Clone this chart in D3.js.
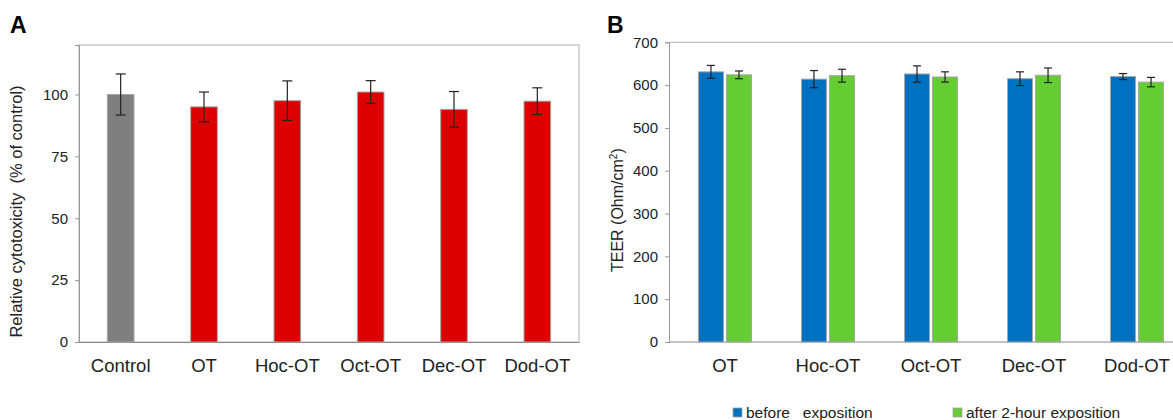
<!DOCTYPE html>
<html>
<head>
<meta charset="utf-8">
<script src="https://cdn.jsdelivr.net/npm/d3@7"></script>
<style>
  body { margin: 0; background: #fff; }
  svg { display: block; font-family: "Liberation Sans", Arial, sans-serif; }
</style>
</head>
<body>
<div id="chart"></div>
<script>
// panel A: relative cytotoxicity
const catsA = ["Control", "OT", "Hoc-OT", "Oct-OT", "Dec-OT", "Dod-OT"];
const meanA = [100, 95, 97.5, 101, 94, 97.3];
const errA = [8.3, 6, 8, 4.6, 7.2, 5.4];
const ticksA = [0, 25, 50, 75, 100];

// panel B: TEER before / after
const catsB = ["OT", "Hoc-OT", "Oct-OT", "Dec-OT", "Dod-OT"];
const seriesB = ["before", "after"];
const beforeB = [631, 614, 626, 615, 620];
const beforeErrB = [15, 20, 19, 16, 7];
const afterB = [624, 622, 619, 623, 607];
const afterErrB = [9, 15, 12, 17, 11];
const ticksB = [0, 100, 200, 300, 400, 500, 600, 700];
const legendLabels = ["before   exposition", "after 2-hour exposition"];

const width = 1173, height = 420;

const svg = d3.select("#chart").append("svg")
  .attr("width", width)
  .attr("height", height);

// ---------- Panel A ----------
const a = { left: 79, right: 579, top: 45, bottom: 342 };

const xA = d3.scaleBand().domain(catsA)
  .range([a.left, a.right])
  .paddingInner(0.68).paddingOuter(0.34);
const yA = d3.scaleLinear().domain([0, 120]).range([a.bottom, a.top]);

svg.append("text").attr("x", 10).attr("y", 33)
  .attr("font-size", 23).attr("font-weight", "bold").text("A");

svg.append("rect")
  .attr("x", a.left).attr("y", a.top)
  .attr("width", a.right - a.left).attr("height", a.bottom - a.top)
  .attr("fill", "none").attr("stroke", "#b0b0b0");

const yAxisA = svg.append("g")
  .attr("transform", `translate(${a.left},0)`)
  .call(d3.axisLeft(yA).tickValues(ticksA).tickSize(4).tickPadding(7));
yAxisA.select(".domain").attr("stroke", "#999");
yAxisA.selectAll(".tick line").attr("stroke", "#999");
yAxisA.selectAll("text").attr("font-size", 15).attr("fill", "#222")
  .attr("font-family", "Liberation Sans, Arial, sans-serif");

const xAxisA = svg.append("g")
  .attr("transform", `translate(0,${a.bottom})`)
  .call(d3.axisBottom(xA).tickSize(0).tickPadding(17));
xAxisA.select(".domain").attr("stroke", "#888");
xAxisA.selectAll("text").attr("font-size", 18.5).attr("fill", "#222")
  .attr("font-family", "Liberation Sans, Arial, sans-serif");

svg.append("g").selectAll("rect")
  .data(catsA)
  .join("rect")
  .attr("x", (d) => xA(d))
  .attr("y", (d, i) => yA(meanA[i]))
  .attr("width", xA.bandwidth())
  .attr("height", (d, i) => yA(0) - yA(meanA[i]))
  .attr("fill", (d, i) => (i === 0 ? "#7f7f7f" : "#dc0000"))
  .attr("stroke", "#a6a6a6")
  .attr("stroke-width", 1);

const errGA = svg.append("g").attr("stroke", "#222").attr("stroke-width", 1.2);
catsA.forEach((c, i) => {
  const cx = xA(c) + xA.bandwidth() / 2;
  const hi = yA(meanA[i] + errA[i]), lo = yA(meanA[i] - errA[i]);
  errGA.append("line").attr("x1", cx).attr("x2", cx).attr("y1", hi).attr("y2", lo);
  errGA.append("line").attr("x1", cx - 5).attr("x2", cx + 5).attr("y1", hi).attr("y2", hi);
  errGA.append("line").attr("x1", cx - 5).attr("x2", cx + 5).attr("y1", lo).attr("y2", lo);
});

svg.append("text")
  .attr("transform", `translate(22,${(a.top + a.bottom) / 2 + 18}) rotate(-90)`)
  .attr("text-anchor", "middle")
  .attr("font-size", 16.5).attr("fill", "#222")
  .style("white-space", "pre")
  .text("Relative cytotoxicity  (% of control)");

// ---------- Panel B ----------
const b = { left: 669, right: 1193, top: 42.3, bottom: 342 };

const x0B = d3.scaleBand().domain(catsB)
  .range([b.left, b.right])
  .paddingInner(0.485).paddingOuter(0.286);
const x1B = d3.scaleBand().domain(seriesB)
  .range([0, x0B.bandwidth()])
  .paddingInner(0.11);
const yB = d3.scaleLinear().domain([0, 700]).range([b.bottom, b.top]);
const colorB = d3.scaleOrdinal().domain(seriesB).range(["#0070c0", "#66cc33"]);

svg.append("text").attr("x", 607).attr("y", 33)
  .attr("font-size", 23).attr("font-weight", "bold").text("B");

// top frame line (plot area runs off the right edge)
svg.append("line")
  .attr("x1", b.left).attr("x2", width)
  .attr("y1", yB(700)).attr("y2", yB(700))
  .attr("stroke", "#b0b0b0");

const yAxisB = svg.append("g")
  .attr("transform", `translate(${b.left},0)`)
  .call(d3.axisLeft(yB).tickValues(ticksB).tickSize(4).tickPadding(7));
yAxisB.select(".domain").attr("stroke", "#999");
yAxisB.selectAll(".tick line").attr("stroke", "#999");
yAxisB.selectAll("text").attr("font-size", 15).attr("fill", "#222")
  .attr("font-family", "Liberation Sans, Arial, sans-serif");

const xAxisB = svg.append("g")
  .attr("transform", `translate(0,${b.bottom})`)
  .call(d3.axisBottom(x0B).tickSize(0).tickPadding(17));
xAxisB.select(".domain").attr("stroke", "#888").attr("d", `M${b.left},0H${width}`);
xAxisB.selectAll("text").attr("font-size", 18.5).attr("fill", "#222")
  .attr("font-family", "Liberation Sans, Arial, sans-serif");

const rowsB = catsB.map((c, i) => ({
  cat: c,
  vals: [
    { key: "before", v: beforeB[i], e: beforeErrB[i] },
    { key: "after", v: afterB[i], e: afterErrB[i] },
  ],
}));

const groups = svg.append("g").selectAll("g")
  .data(rowsB)
  .join("g")
  .attr("transform", (d) => `translate(${x0B(d.cat)},0)`);

groups.selectAll("rect")
  .data((d) => d.vals)
  .join("rect")
  .attr("x", (d) => x1B(d.key))
  .attr("y", (d) => yB(d.v))
  .attr("width", x1B.bandwidth())
  .attr("height", (d) => yB(0) - yB(d.v))
  .attr("fill", (d) => colorB(d.key))
  .attr("stroke", "#a6a6a6")
  .attr("stroke-width", 1);

const errB = groups.selectAll("g.err")
  .data((d) => d.vals)
  .join("g")
  .attr("class", "err")
  .attr("stroke", "#222")
  .attr("stroke-width", 1.2);
errB.each(function (d) {
  const g = d3.select(this);
  const cx = x1B(d.key) + x1B.bandwidth() / 2;
  const hi = yB(d.v + d.e), lo = yB(d.v - d.e);
  g.append("line").attr("x1", cx).attr("x2", cx).attr("y1", hi).attr("y2", lo);
  g.append("line").attr("x1", cx - 4).attr("x2", cx + 4).attr("y1", hi).attr("y2", hi);
  g.append("line").attr("x1", cx - 4).attr("x2", cx + 4).attr("y1", lo).attr("y2", lo);
});

const yLabB = svg.append("text")
  .attr("transform", `translate(623,${(b.top + b.bottom) / 2 + 18}) rotate(-90)`)
  .attr("text-anchor", "middle")
  .attr("font-size", 16).attr("fill", "#222");
yLabB.append("tspan").text("TEER (Ohm/cm");
yLabB.append("tspan").attr("font-size", 10).attr("dy", -6).text("2");
yLabB.append("tspan").attr("dy", 6).text(")");

// legend
const legendX = [733, 953];
const legend = svg.append("g").selectAll("g")
  .data(seriesB)
  .join("g")
  .attr("transform", (d, i) => `translate(${legendX[i]},408)`);
legend.append("rect")
  .attr("width", 9).attr("height", 9)
  .attr("fill", (d) => colorB(d))
  .attr("stroke", "#a6a6a6").attr("stroke-width", 0.8);
legend.append("text")
  .attr("x", 13).attr("y", 9.5)
  .attr("font-size", 15.5).attr("fill", "#222")
  .style("white-space", "pre")
  .text((d, i) => legendLabels[i]);
</script>
</body>
</html>
